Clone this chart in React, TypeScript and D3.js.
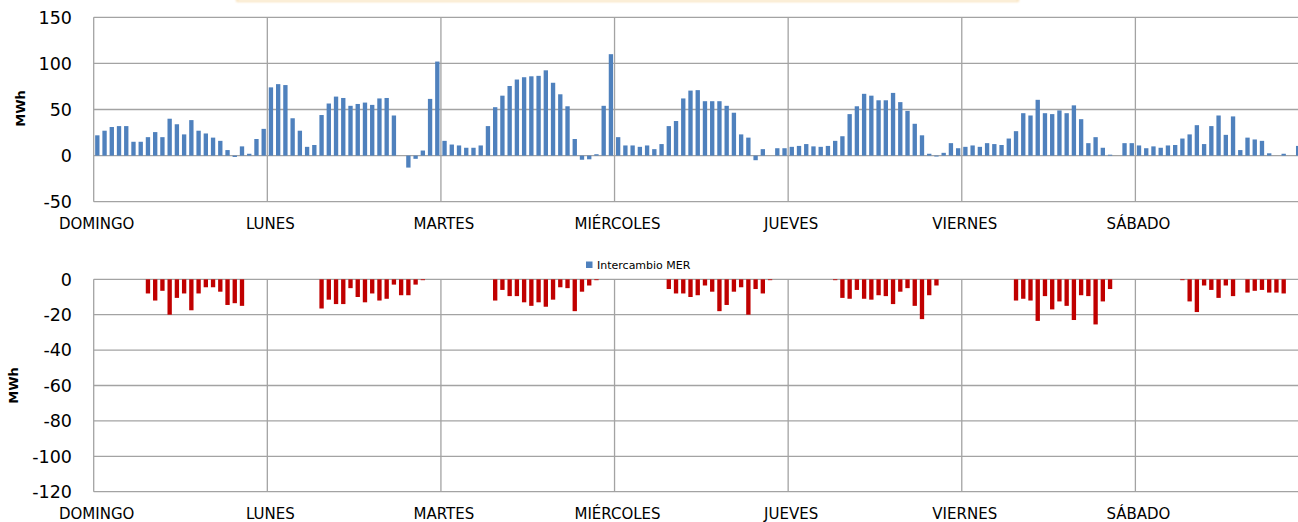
import React from 'react';
import * as d3 from 'd3';

const DAYS = ['DOMINGO', 'LUNES', 'MARTES', 'MIÉRCOLES', 'JUEVES', 'VIERNES', 'SÁBADO'];
const TOP_TICKS = [150, 100, 50, 0, -50];
const BOTTOM_TICKS = [0, -20, -40, -60, -80, -100, -120];
const LEGEND_LABEL = 'Intercambio MER';
const Y_LABEL = 'MWh';

// Blue series (hourly, 24 per day)
const merDomingo = [22, 27, 31, 32, 32, 15, 15, 20, 25.5, 20, 40, 34, 23, 38.5, 27, 24, 19.5, 16, 6, -1.5, 10, 2, 18, 29];
const merLunes = [74, 77.5, 76.5, 40.5, 27, 9.5, 11.5, 44, 56.5, 64, 62.5, 54, 56, 57.5, 55, 62, 62.5, 43.5, 0, -13, -3.5, 5.5, 61.5, 102];
const merMartes = [16, 12, 11, 8.5, 8.5, 11, 32, 52.5, 65, 75.5, 82.5, 85, 86, 86.5, 92.5, 79, 66.5, 53.5, 18, -4.5, -4, 1.5, 54, 110];
const merMiercoles = [20, 11, 11, 9.5, 11, 7, 12.5, 32, 37.5, 62, 70.5, 71, 59, 59, 59, 54, 46.5, 23, 19.5, -5, 7, 0, 8, 8];
const merJueves = [9.5, 10.5, 12.5, 10, 9.5, 10.5, 16, 21, 45, 53.5, 67, 65, 60, 60, 68, 58, 48.5, 34.5, 22, 2, -1, 3, 13.5, 8];
const merViernes = [9.5, 11, 9.5, 13.5, 12.5, 11.5, 18.5, 26.5, 46, 43.5, 60.5, 46, 45, 49, 46, 54.5, 39.5, 13.5, 20, 8.5, 1, 0, 13.5, 13.5];
const merSabado = [11, 8, 10, 8.5, 11, 11.5, 18.5, 23, 33, 12.5, 32, 43.5, 22.5, 42.5, 6, 19.5, 17.5, 16, 2.5, 0, 2, 0, 10.5, 9];

// Red series (hourly, 24 per day)
const negDomingo = [0, 0, 0, 0, 0, 0, 0, -8, -12, -6.5, -20, -10.5, -8, -17.5, -8, -4.5, -4.5, -7, -14.5, -13.5, -15, 0, 0, 0];
const negLunes = [0, 0, 0, 0, 0, 0, 0, -16.5, -11.5, -14, -14, -5, -10, -13, -8, -12, -11, -3, -9, -9, -3, -0.5, 0, 0];
const negMartes = [0, 0, 0, 0, 0, 0, 0, -12, -6, -9.5, -9.5, -13, -15, -13, -15.5, -11.5, -4.5, -5, -18, -7, -3.5, -0.5, 0, 0];
const negMiercoles = [0, 0, 0, 0, 0, 0, 0, -5.5, -8, -8, -10, -9, -3.5, -7, -18, -14.5, -7, -4.5, -20, -5.5, -8, -0.5, 0, 0];
const negJueves = [0, 0, 0, 0, 0, 0, -0.5, -10.5, -11, -6, -11, -11.5, -9, -9.5, -14, -7, -5, -15, -22.5, -9, -3.5, 0, 0, 0];
const negViernes = [0, 0, 0, 0, 0, 0, 0, -12, -11, -12, -23.5, -9.5, -17, -12.5, -15, -23, -9, -9.5, -25.5, -12.5, -5.5, 0, 0, 0];
const negSabado = [0, 0, 0, 0, 0, 0, -0.5, -12.5, -18.5, -3.5, -6, -10.5, -3.5, -9.5, 0, -7.5, -6.5, -6, -7.5, -7.5, -8, 0, 0, 0];

const merSeries = [merDomingo, merLunes, merMartes, merMiercoles, merJueves, merViernes, merSabado].flat();
const negSeries = [negDomingo, negLunes, negMartes, negMiercoles, negJueves, negViernes, negSabado].flat();

const W = 1298;
const H = 522;
const FONT = '"DejaVu Sans", sans-serif';
const GRID = '#a3a3a3';
const BLUE = '#4f81bd';
const RED = '#c00000';

const X0 = 93.7;
const X1 = 1309;

function Panel({ values, y, ticks, color, labelY, mwhX, mwhY, showLegend }: any) {
  const x = d3.scaleBand<number>().domain(d3.range(values.length)).range([X0, X1]).paddingInner(0.4).paddingOuter(0.2);
  const day = d3.scaleLinear().domain([0, 7]).range([X0, X1]);
  const [yMin, yMax] = y.domain();
  const zero = y(0);
  return (
    <g>
      {ticks.map((t: number) => (
        <line key={'h' + t} x1={X0} x2={X1} y1={y(t)} y2={y(t)} stroke={GRID} strokeWidth={1.3} />
      ))}
      {d3.range(0, 8).map((d) => (
        <line key={'v' + d} x1={day(d)} x2={day(d)} y1={y(yMax)} y2={y(yMin)} stroke={GRID} strokeWidth={1.3} />
      ))}
      {values.map((v: number, i: number) =>
        v === 0 ? null : (
          <rect
            key={i}
            x={x(i)}
            width={x.bandwidth()}
            y={Math.min(y(v), zero)}
            height={Math.abs(y(v) - zero)}
            fill={color}
          />
        )
      )}
      {ticks.map((t: number) => (
        <text key={'t' + t} x={72} y={y(t)} dy="0.36em" textAnchor="end" fontFamily={FONT} fontSize={17.5} fill="#000">
          {t}
        </text>
      ))}
      {DAYS.map((d, i) => (
        <text key={d} x={day(i) + 3} y={labelY} dy="0.36em" textAnchor="middle" fontFamily={FONT} fontSize={15} fill="#000">
          {d}
        </text>
      ))}
      <text
        transform={`translate(${mwhX},${mwhY}) rotate(-90)`}
        textAnchor="middle"
        dy="0.36em"
        fontFamily={FONT}
        fontWeight="bold"
        fontSize={13}
        fill="#000"
      >
        {Y_LABEL}
      </text>
      {showLegend ? (
        <g>
          <rect x={586} y={261.5} width={6.5} height={6.5} fill={BLUE} />
          <text x={597} y={265} dy="0.36em" fontFamily={FONT} fontSize={11} fill="#000">
            {LEGEND_LABEL}
          </text>
        </g>
      ) : null}
    </g>
  );
}

export default function App() {
  const yTop = d3.scaleLinear().domain([-50, 150]).range([201.7, 17.3]);
  const yBot = d3.scaleLinear().domain([-120, 0]).range([491.7, 279.3]);
  return (
    <svg
      width={W}
      height={H}
      viewBox={`0 0 ${W} ${H}`}
      style={{ position: 'absolute', left: 0, top: 0, background: '#fff' }}
    >
      <rect x={0} y={0} width={W} height={H} fill="#fff" />
      <defs>
        <filter id="soft" x="-5%" y="-200%" width="110%" height="500%">
          <feGaussianBlur stdDeviation="0.8" />
        </filter>
      </defs>
      <rect x={237} y={-30} width={781} height={31} fill="#fffdf7" stroke="#f6d9a4" strokeWidth={1.5} filter="url(#soft)" />
      <Panel values={merSeries} y={yTop} ticks={TOP_TICKS} color={BLUE} labelY={224} mwhX={20} mwhY={108.5} showLegend={false} />
      <Panel values={negSeries} y={yBot} ticks={BOTTOM_TICKS} color={RED} labelY={514} mwhX={13} mwhY={385.5} showLegend={true} />
    </svg>
  );
}
